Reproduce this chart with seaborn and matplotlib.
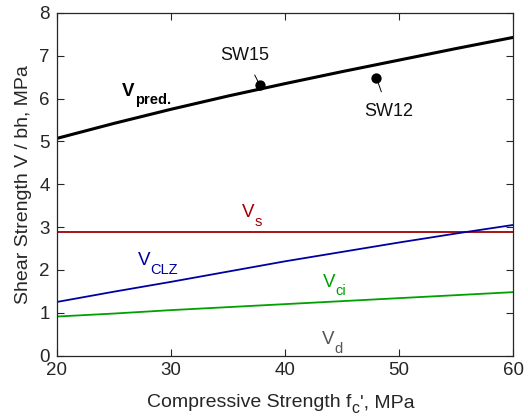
import matplotlib
matplotlib.use("Agg")
import matplotlib.pyplot as plt
import seaborn as sns
import pandas as pd

# Compressive strength grid (MPa) and the shear strength components (MPa)
fc = [20, 25, 30, 35, 40, 45, 50, 55, 60]
v_pred = [5.07, 5.42, 5.75, 6.06, 6.35, 6.63, 6.90, 7.17, 7.43]
v_s = [2.89, 2.89, 2.89, 2.89, 2.89, 2.89, 2.89, 2.89, 2.89]
v_clz = [1.25, 1.49, 1.72, 1.96, 2.20, 2.42, 2.64, 2.85, 3.05]
v_ci = [0.91, 0.98, 1.06, 1.13, 1.20, 1.27, 1.34, 1.41, 1.48]

# Test specimens
spec_names = ["SW15", "SW12"]
spec_fc = [37.8, 48.0]
spec_v = [6.31, 6.49]

x_ticks = [20, 30, 40, 50, 60]
y_ticks = [0, 1, 2, 3, 4, 5, 6, 7, 8]

sns.set_theme(style="ticks")
plt.rcParams.update({
    "font.family": ["Liberation Sans", "DejaVu Sans"],
    "axes.edgecolor": "#262626",
    "axes.linewidth": 0.9,
    "xtick.color": "#262626",
    "ytick.color": "#262626",
    "xtick.direction": "in",
    "ytick.direction": "in",
    "xtick.top": True,
    "ytick.right": True,
})

fig = plt.figure(figsize=(5.28, 4.16), dpi=100)
ax = fig.add_axes([0.1074, 0.1454, 0.8648, 0.8234])

df = pd.DataFrame({"fc": fc, "pred": v_pred, "s": v_s, "clz": v_clz, "ci": v_ci})

sns.lineplot(data=df, x="fc", y="pred", color="black", linewidth=2.2, ax=ax)
sns.lineplot(data=df, x="fc", y="s", color="#a00000", linewidth=1.3, ax=ax)
sns.lineplot(data=df, x="fc", y="clz", color="#0000a0", linewidth=1.3, ax=ax)
sns.lineplot(data=df, x="fc", y="ci", color="#00a000", linewidth=1.3, ax=ax)

sns.scatterplot(x=spec_fc, y=spec_v, color="black", s=55, edgecolor="black",
                linewidth=0, zorder=5, ax=ax)

# Specimen labels with leader lines
ax.annotate(spec_names[0], xy=(spec_fc[0], spec_v[0]), xytext=(36.5, 7.0),
            ha="center", va="center", fontsize=13, color="#111111",
            arrowprops=dict(arrowstyle="-", color="black", lw=0.7,
                            shrinkA=6, shrinkB=3))
ax.annotate(spec_names[1], xy=(spec_fc[1], spec_v[1]), xytext=(49.05, 5.70),
            ha="center", va="center", fontsize=13, color="#111111",
            arrowprops=dict(arrowstyle="-", color="black", lw=0.7,
                            shrinkA=6, shrinkB=3))


def sub_label(x, y, main, sub, color, weight="normal", size=13.5,
              sub_size=10.5, drop=6.5):
    """Write main text with a subscript right after it, baseline at (x, y)."""
    t = ax.text(x, y, main, fontsize=size, color=color, fontweight=weight,
                ha="left", va="baseline")
    ax.annotate(sub, xy=(1, y), xycoords=(t, "data"),
                xytext=(0.3, -drop), textcoords="offset points",
                fontsize=sub_size, color=color, fontweight=weight,
                ha="left", va="baseline")


# Component labels
sub_label(25.7, 6.05, "V", "pred.", "black", weight="bold", sub_size=10.5,
          drop=5.5)
sub_label(36.2, 3.235, "V", "s", "#a00000")
sub_label(27.1, 2.11, "V", "CLZ", "#0000a0")
sub_label(43.3, 1.60, "V", "ci", "#00a000", drop=6.0)
sub_label(43.2, 0.27, "V", "d", "#555555")

ax.set_xlim(20, 60)
ax.set_ylim(0, 8)
ax.set_xticks(x_ticks)
ax.set_yticks(y_ticks)
ax.tick_params(axis="both", labelsize=13.5, length=5, width=0.8, pad=5,
               labelcolor="#262626")
for side in ["top", "right", "left", "bottom"]:
    ax.spines[side].set_visible(True)

# x-axis title, composed so the subscript on f_c keeps a large size
ax.set_xlabel("")
base_y = 1 - 407 / 416
xl = fig.text(147 / 528, base_y, "Compressive Strength f", fontsize=14,
              color="#262626", ha="left", va="baseline")
xsub = ax.annotate("c", xy=(1, base_y), xycoords=(xl, "figure fraction"),
                   xytext=(0.2, -4.3), textcoords="offset points",
                   fontsize=11.5, color="#262626", ha="left", va="baseline",
                   annotation_clip=False)
ax.annotate("', MPa", xy=(1, base_y), xycoords=(xsub, "figure fraction"),
            xytext=(0, 0), textcoords="offset points",
            fontsize=14, color="#262626", ha="left", va="baseline",
            annotation_clip=False)

ax.set_ylabel("Shear Strength V / bh, MPa", fontsize=14, color="#262626",
              labelpad=5)

fig.savefig("out.png", dpi=100)
